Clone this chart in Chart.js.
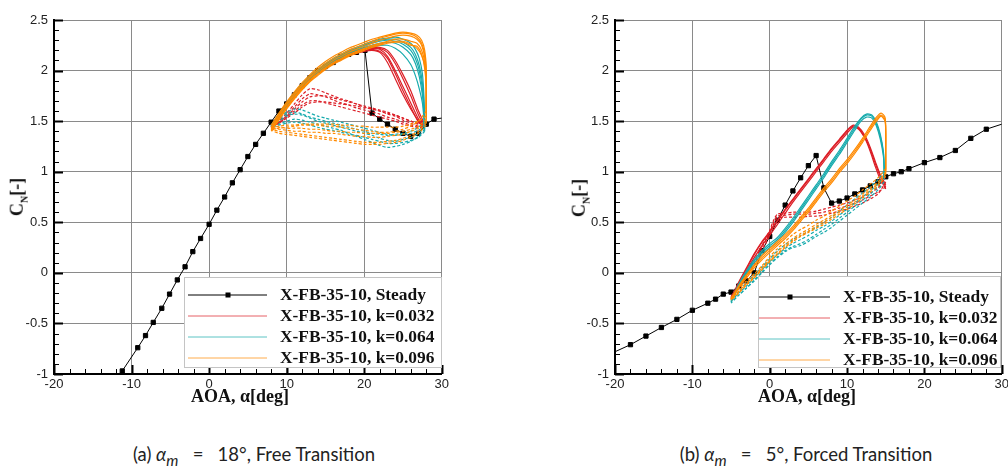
<!DOCTYPE html>
<html>
<head>
<meta charset="utf-8">
<title>Normal force loops, X-FB-35-10</title>
<script src="https://cdn.jsdelivr.net/npm/chart.js"></script>
<style>
  body { margin:0; width:1008px; height:466px; overflow:hidden; background:#fff; position:relative; }
  canvas { position:absolute; top:0; }
  #chartA { left:0; }
  #chartB { left:560px; }
  .xtitle, .ytitle { position:absolute; font-family:"Liberation Serif","Times New Roman",serif; font-weight:bold; color:#111; white-space:nowrap; }
  .xtitle { font-size:18px; top:386px; transform:translateX(-50%); }
  .ytitle { font-size:18px; transform:translate(-50%,-50%) rotate(-90deg); }
  .ytitle sub { font-size:10px; }
  .caption { position:absolute; top:443px; font-family:Lato,"Open Sans",sans-serif; font-size:18.5px; color:#222; transform:translateX(-50%); white-space:nowrap; }
</style>
</head>
<body>
<canvas id="chartA" width="452" height="392"></canvas>
<canvas id="chartB" width="452" height="392"></canvas>

<div class="ytitle" style="left:18px; top:197px;">C<sub>N</sub>[-]</div>
<div class="ytitle" style="left:580px; top:198px;">C<sub>N</sub>[-]</div>
<div class="xtitle" style="left:240px;">AOA, α[deg]</div>
<div class="xtitle" style="left:807px;">AOA, α[deg]</div>
<div class="caption" style="left:254px;">(a) <i>α<sub>m</sub></i> &nbsp; = &nbsp; 18°, Free Transition</div>
<div class="caption" style="left:806px;">(b) <i>α<sub>m</sub></i> &nbsp; = &nbsp; 5°, Forced Transition</div>

<script>
// legend
const legendLabels = ['X-FB-35-10, Steady', 'X-FB-35-10, k=0.032', 'X-FB-35-10, k=0.064', 'X-FB-35-10, k=0.096'];
const seriesColors = ['#000000', '#dc1e26', '#17abad', '#ff8a00'];

// axes
const xTicks = [-20, -10, 0, 10, 20, 30];
const yTicks = [-1, -0.5, 0, 0.5, 1, 1.5, 2, 2.5];

// (a) alpha_m = 18 deg, free transition -- steady polar
const aSteadyAlpha = [-11.2, -9.2, -8.2, -7.2, -6.1, -5.1, -4.1, -3.1, -2.1, -1.1,
  0, 1, 2, 3, 4, 5, 6, 7, 8, 9, 10, 11, 12, 13, 14, 15, 16, 17, 18, 19, 20.1,
  21, 22, 23, 24, 25, 26, 27, 28, 29, 30];
const aSteadyCn = [-0.97, -0.74, -0.62, -0.49, -0.35, -0.21, -0.07, 0.06, 0.21, 0.34,
  0.48, 0.62, 0.75, 0.89, 1.02, 1.15, 1.27, 1.38, 1.49, 1.6, 1.67, 1.76, 1.85, 1.93, 2.0, 2.04, 2.08, 2.14, 2.16, 2.18, 2.2,
  1.58, 1.52, 1.47, 1.42, 1.38, 1.35, 1.38, 1.47, 1.52, 1.53];

// (a) k=0.032, one row per cycle
const aRedUpAlpha = [8, 9, 10, 11, 12, 13, 14, 15, 16, 17, 18, 19, 20, 21, 22, 23, 24, 25, 26, 27, 27.6];
const aRedUp = [
  [1.44, 1.55, 1.66, 1.76, 1.85, 1.93, 1.99, 2.04, 2.08, 2.12, 2.16, 2.19, 2.21, 2.22, 2.21, 2.14, 2.0, 1.84, 1.68, 1.52, 1.46],
  [1.43, 1.54, 1.65, 1.75, 1.84, 1.92, 1.98, 2.03, 2.07, 2.11, 2.15, 2.17, 2.19, 2.2, 2.18, 2.08, 1.92, 1.76, 1.62, 1.5, 1.44],
  [1.45, 1.56, 1.67, 1.77, 1.86, 1.94, 2.0, 2.05, 2.09, 2.13, 2.17, 2.2, 2.22, 2.23, 2.22, 2.18, 2.07, 1.92, 1.75, 1.56, 1.47],
  [1.44, 1.55, 1.66, 1.76, 1.85, 1.93, 1.99, 2.04, 2.08, 2.12, 2.15, 2.18, 2.2, 2.21, 2.19, 2.12, 1.97, 1.8, 1.64, 1.49, 1.45],
  [1.45, 1.56, 1.67, 1.77, 1.86, 1.94, 2.0, 2.05, 2.1, 2.14, 2.17, 2.2, 2.22, 2.23, 2.23, 2.2, 2.1, 1.96, 1.8, 1.6, 1.5]
];
const aRedDnAlpha = [27.6, 27, 26, 25, 24, 23, 22, 21, 20, 19, 18, 17, 16, 15, 14, 13, 12, 11, 10, 9, 8];
const aRedDn = [
  [1.46, 1.45, 1.48, 1.51, 1.55, 1.57, 1.6, 1.62, 1.64, 1.67, 1.7, 1.72, 1.75, 1.78, 1.81, 1.82, 1.76, 1.67, 1.58, 1.5, 1.44],
  [1.44, 1.44, 1.46, 1.49, 1.52, 1.54, 1.57, 1.59, 1.61, 1.63, 1.66, 1.68, 1.71, 1.74, 1.76, 1.77, 1.72, 1.64, 1.56, 1.49, 1.44],
  [1.47, 1.47, 1.5, 1.53, 1.56, 1.59, 1.61, 1.63, 1.65, 1.67, 1.69, 1.71, 1.73, 1.75, 1.75, 1.74, 1.69, 1.62, 1.55, 1.49, 1.44],
  [1.45, 1.44, 1.45, 1.47, 1.5, 1.52, 1.54, 1.56, 1.58, 1.6, 1.62, 1.64, 1.66, 1.68, 1.7, 1.7, 1.66, 1.6, 1.54, 1.48, 1.44],
  [1.5, 1.48, 1.5, 1.53, 1.56, 1.58, 1.6, 1.62, 1.63, 1.65, 1.66, 1.67, 1.68, 1.69, 1.69, 1.68, 1.64, 1.58, 1.53, 1.48, 1.45]
];

// (a) k=0.064
const aCyanUpAlpha = [8, 9, 10, 11, 12, 13, 14, 15, 16, 17, 18, 19, 20, 21, 22, 23, 24, 25, 26, 26.6, 27.1, 27.5, 27.7, 27.8];
const aCyanUp = [
  [1.45, 1.56, 1.67, 1.77, 1.86, 1.94, 2.0, 2.05, 2.1, 2.14, 2.18, 2.21, 2.24, 2.27, 2.29, 2.3, 2.29, 2.26, 2.2, 2.12, 2.0, 1.82, 1.62, 1.44],
  [1.44, 1.55, 1.66, 1.76, 1.85, 1.93, 1.99, 2.04, 2.09, 2.13, 2.17, 2.2, 2.23, 2.25, 2.27, 2.28, 2.27, 2.23, 2.16, 2.07, 1.94, 1.76, 1.58, 1.42],
  [1.45, 1.56, 1.67, 1.77, 1.86, 1.94, 2.0, 2.06, 2.11, 2.15, 2.19, 2.22, 2.25, 2.28, 2.3, 2.31, 2.31, 2.28, 2.23, 2.16, 2.05, 1.88, 1.66, 1.46],
  [1.44, 1.55, 1.65, 1.75, 1.84, 1.92, 1.98, 2.03, 2.08, 2.12, 2.16, 2.19, 2.22, 2.24, 2.25, 2.25, 2.22, 2.16, 2.06, 1.95, 1.82, 1.68, 1.52, 1.4],
  [1.46, 1.57, 1.68, 1.78, 1.87, 1.95, 2.01, 2.07, 2.12, 2.16, 2.2, 2.23, 2.26, 2.29, 2.31, 2.32, 2.33, 2.31, 2.27, 2.21, 2.12, 1.97, 1.75, 1.5]
];
const aCyanDnAlpha = [27.8, 27, 26, 25, 24, 23, 22, 21, 20, 19, 18, 17, 16, 15, 14, 13, 12, 11, 10, 9, 8];
const aCyanDn = [
  [1.44, 1.38, 1.34, 1.32, 1.3, 1.31, 1.33, 1.36, 1.38, 1.4, 1.42, 1.44, 1.46, 1.48, 1.5, 1.53, 1.56, 1.57, 1.55, 1.5, 1.45],
  [1.42, 1.35, 1.3, 1.27, 1.25, 1.24, 1.26, 1.29, 1.32, 1.35, 1.38, 1.41, 1.43, 1.45, 1.47, 1.49, 1.51, 1.52, 1.5, 1.47, 1.44],
  [1.46, 1.41, 1.38, 1.37, 1.36, 1.37, 1.39, 1.41, 1.43, 1.45, 1.47, 1.49, 1.51, 1.53, 1.55, 1.58, 1.61, 1.62, 1.59, 1.53, 1.46],
  [1.4, 1.34, 1.31, 1.29, 1.28, 1.28, 1.3, 1.32, 1.34, 1.36, 1.37, 1.39, 1.41, 1.42, 1.44, 1.46, 1.48, 1.49, 1.48, 1.46, 1.44],
  [1.5, 1.44, 1.4, 1.38, 1.37, 1.36, 1.37, 1.38, 1.4, 1.42, 1.44, 1.46, 1.48, 1.5, 1.52, 1.54, 1.57, 1.59, 1.57, 1.52, 1.46]
];

// (a) k=0.096
const aOrangeUpAlpha = [8, 9, 10, 11, 12, 13, 14, 15, 16, 17, 18, 19, 20, 21, 22, 23, 24, 25, 26, 26.8, 27.4, 27.8, 28, 28];
const aOrangeUp = [
  [1.43, 1.55, 1.66, 1.76, 1.85, 1.93, 1.99, 2.05, 2.1, 2.14, 2.18, 2.21, 2.24, 2.27, 2.3, 2.32, 2.34, 2.35, 2.34, 2.31, 2.25, 2.13, 1.94, 1.58],
  [1.42, 1.53, 1.64, 1.74, 1.83, 1.91, 1.97, 2.03, 2.08, 2.12, 2.16, 2.19, 2.22, 2.25, 2.27, 2.29, 2.31, 2.31, 2.29, 2.27, 2.2, 2.08, 1.88, 1.52],
  [1.46, 1.58, 1.69, 1.79, 1.88, 1.96, 2.03, 2.09, 2.14, 2.18, 2.22, 2.25, 2.28, 2.31, 2.33, 2.35, 2.37, 2.38, 2.37, 2.35, 2.3, 2.2, 2.02, 1.62],
  [1.4, 1.51, 1.62, 1.72, 1.81, 1.89, 1.95, 2.01, 2.06, 2.1, 2.14, 2.17, 2.2, 2.23, 2.25, 2.27, 2.28, 2.28, 2.25, 2.24, 2.16, 2.02, 1.82, 1.48],
  [1.44, 1.56, 1.67, 1.77, 1.86, 1.94, 2.01, 2.07, 2.12, 2.16, 2.2, 2.23, 2.26, 2.29, 2.32, 2.34, 2.36, 2.37, 2.36, 2.33, 2.27, 2.16, 1.98, 1.55],
  [1.41, 1.52, 1.63, 1.73, 1.82, 1.9, 1.96, 2.02, 2.07, 2.11, 2.15, 2.18, 2.21, 2.24, 2.26, 2.28, 2.29, 2.29, 2.26, 2.22, 2.15, 2.05, 1.88, 1.6]
];
const aOrangeDnAlpha = [28, 27, 26, 25, 24, 23, 22, 21, 20, 19, 18, 17, 16, 15, 14, 13, 12, 11, 10, 9, 8];
const aOrangeDn = [
  [1.52, 1.45, 1.42, 1.4, 1.39, 1.38, 1.38, 1.38, 1.38, 1.39, 1.39, 1.4, 1.4, 1.41, 1.42, 1.42, 1.43, 1.43, 1.43, 1.44, 1.43],
  [1.48, 1.4, 1.36, 1.33, 1.31, 1.3, 1.29, 1.29, 1.29, 1.3, 1.31, 1.32, 1.33, 1.34, 1.35, 1.36, 1.37, 1.38, 1.39, 1.4, 1.42],
  [1.55, 1.5, 1.47, 1.45, 1.44, 1.44, 1.44, 1.44, 1.45, 1.45, 1.46, 1.46, 1.47, 1.47, 1.47, 1.47, 1.47, 1.46, 1.46, 1.45, 1.44],
  [1.46, 1.38, 1.34, 1.31, 1.29, 1.28, 1.27, 1.27, 1.27, 1.28, 1.29, 1.3, 1.31, 1.32, 1.33, 1.34, 1.35, 1.36, 1.37, 1.38, 1.41],
  [1.5, 1.43, 1.4, 1.37, 1.36, 1.35, 1.34, 1.34, 1.35, 1.35, 1.36, 1.37, 1.38, 1.38, 1.39, 1.39, 1.4, 1.4, 1.41, 1.42, 1.43],
  [1.6, 1.5, 1.45, 1.42, 1.4, 1.39, 1.39, 1.4, 1.41, 1.42, 1.43, 1.44, 1.45, 1.45, 1.46, 1.46, 1.46, 1.45, 1.44, 1.43, 1.41]
];

// (b) alpha_m = 5 deg, forced transition -- steady polar
const bSteadyAlpha = [-20, -18, -16, -14, -12, -10, -8, -7, -6, -5, -4, -3, -2, -1,
  0, 1, 2, 3, 4, 5, 6, 7, 8, 9, 10, 11, 12, 13, 14, 15, 16, 17, 18,
  20, 22, 24, 26, 28, 30];
const bSteadyCn = [-0.78, -0.71, -0.625, -0.54, -0.46, -0.37, -0.3, -0.26, -0.21, -0.19, -0.13, -0.08, 0.0, 0.22,
  0.36, 0.52, 0.67, 0.81, 0.94, 1.06, 1.16, 0.84, 0.69, 0.71, 0.74, 0.78, 0.82, 0.86, 0.9, 0.95, 0.98, 1.0, 1.03,
  1.09, 1.14, 1.21, 1.33, 1.42, 1.47];

// (b) k=0.032
const bRedUpAlpha = [-5, -4.5, -4, -3, -2, -1, 0, 1, 2, 3, 4, 5, 6, 7, 8, 9, 10, 10.8, 11.5, 12.3, 13, 13.7, 14.3, 14.8, 15];
const bRedUp = [
  [-0.25, -0.18, -0.1, 0.04, 0.18, 0.3, 0.4, 0.51, 0.62, 0.72, 0.82, 0.92, 1.02, 1.12, 1.22, 1.31, 1.4, 1.45, 1.43, 1.34, 1.22, 1.07, 0.95, 0.88, 0.85],
  [-0.26, -0.19, -0.12, 0.02, 0.15, 0.27, 0.37, 0.48, 0.59, 0.7, 0.8, 0.9, 1.0, 1.1, 1.2, 1.29, 1.38, 1.44, 1.42, 1.33, 1.2, 1.04, 0.92, 0.86, 0.83],
  [-0.24, -0.17, -0.09, 0.05, 0.19, 0.31, 0.41, 0.52, 0.63, 0.73, 0.83, 0.93, 1.03, 1.13, 1.23, 1.32, 1.41, 1.46, 1.44, 1.36, 1.24, 1.09, 0.97, 0.9, 0.87]
];
const bRedDnAlpha = [15, 14, 13, 12, 11, 10, 9, 8, 7, 6, 5, 4, 3, 2, 1, 0.5, 0, -1, -2, -3, -4, -5];
const bRedDn = [
  [0.85, 0.8, 0.76, 0.72, 0.69, 0.66, 0.64, 0.62, 0.6, 0.59, 0.58, 0.58, 0.58, 0.57, 0.56, 0.5, 0.4, 0.25, 0.1, -0.02, -0.14, -0.25],
  [0.9, 0.78, 0.73, 0.69, 0.66, 0.63, 0.61, 0.59, 0.57, 0.56, 0.56, 0.55, 0.55, 0.55, 0.54, 0.48, 0.37, 0.22, 0.08, -0.04, -0.15, -0.26],
  [0.95, 0.84, 0.79, 0.75, 0.72, 0.69, 0.67, 0.65, 0.63, 0.61, 0.6, 0.6, 0.6, 0.59, 0.58, 0.52, 0.42, 0.27, 0.12, 0.0, -0.12, -0.24]
];

// (b) k=0.064
const bCyanUpAlpha = [-5, -4.5, -4, -3, -2, -1, 0, 1, 2, 3, 4, 5, 6, 7, 8, 9, 10, 11, 11.8, 12.5, 13.2, 13.8, 14.3, 14.7, 14.8, 14.8];
const bCyanUp = [
  [-0.28, -0.2, -0.12, 0.0, 0.12, 0.2, 0.27, 0.33, 0.42, 0.52, 0.63, 0.74, 0.85, 0.96, 1.08, 1.19, 1.31, 1.43, 1.52, 1.56, 1.55, 1.47, 1.35, 1.18, 1.02, 0.95],
  [-0.29, -0.21, -0.13, -0.01, 0.1, 0.18, 0.25, 0.31, 0.4, 0.5, 0.61, 0.72, 0.83, 0.94, 1.06, 1.17, 1.29, 1.41, 1.5, 1.54, 1.53, 1.45, 1.32, 1.15, 1.0, 0.92],
  [-0.27, -0.19, -0.11, 0.02, 0.13, 0.22, 0.29, 0.35, 0.44, 0.54, 0.65, 0.76, 0.87, 0.98, 1.1, 1.21, 1.33, 1.45, 1.53, 1.57, 1.56, 1.49, 1.37, 1.2, 1.04, 0.97]
];
const bCyanDnAlpha = [14.8, 14, 13, 12, 11, 10, 9, 8, 7, 6, 5, 4, 3, 2, 1, 0, -1, -2, -3, -4, -5];
const bCyanDn = [
  [0.95, 0.88, 0.81, 0.75, 0.69, 0.63, 0.57, 0.51, 0.46, 0.42, 0.37, 0.33, 0.29, 0.24, 0.18, 0.11, 0.03, -0.05, -0.13, -0.2, -0.28],
  [0.9, 0.82, 0.75, 0.69, 0.63, 0.57, 0.51, 0.45, 0.4, 0.36, 0.31, 0.27, 0.25, 0.21, 0.15, 0.08, 0.0, -0.08, -0.15, -0.22, -0.29],
  [1.0, 0.92, 0.85, 0.79, 0.73, 0.67, 0.61, 0.55, 0.5, 0.45, 0.41, 0.37, 0.33, 0.28, 0.22, 0.14, 0.06, -0.02, -0.1, -0.18, -0.27],
  [0.97, 0.86, 0.78, 0.72, 0.66, 0.6, 0.54, 0.48, 0.43, 0.38, 0.33, 0.29, 0.26, 0.22, 0.16, 0.09, 0.01, -0.07, -0.15, -0.22, -0.3]
];

// (b) k=0.096
const bOrangeUpAlpha = [-5, -4, -3, -2, -1, 0, 1, 2, 3, 4, 5, 6, 7, 8, 9, 10, 11, 12, 13, 13.8, 14.4, 14.9, 15, 15, 15];
const bOrangeUp = [
  [-0.26, -0.14, -0.03, 0.07, 0.15, 0.22, 0.29, 0.36, 0.44, 0.53, 0.62, 0.72, 0.82, 0.91, 1.01, 1.1, 1.2, 1.31, 1.43, 1.52, 1.56, 1.52, 1.4, 1.2, 1.0],
  [-0.27, -0.15, -0.05, 0.05, 0.13, 0.2, 0.27, 0.34, 0.42, 0.51, 0.6, 0.7, 0.8, 0.89, 0.99, 1.08, 1.18, 1.29, 1.41, 1.5, 1.55, 1.5, 1.38, 1.18, 0.97],
  [-0.25, -0.13, -0.02, 0.08, 0.17, 0.24, 0.31, 0.38, 0.46, 0.55, 0.64, 0.74, 0.84, 0.93, 1.03, 1.12, 1.22, 1.33, 1.45, 1.54, 1.58, 1.54, 1.42, 1.22, 1.02]
];
const bOrangeDnAlpha = [15, 14, 13, 12, 11, 10, 9, 8, 7, 6, 5, 4, 3, 2, 1, 0, -1, -2, -3, -4, -5];
const bOrangeDn = [
  [1.0, 0.9, 0.84, 0.78, 0.72, 0.67, 0.62, 0.57, 0.52, 0.48, 0.43, 0.39, 0.34, 0.28, 0.21, 0.13, 0.05, -0.03, -0.1, -0.18, -0.26],
  [0.96, 0.86, 0.8, 0.74, 0.68, 0.63, 0.58, 0.53, 0.48, 0.44, 0.4, 0.36, 0.31, 0.25, 0.18, 0.11, 0.03, -0.05, -0.12, -0.2, -0.27],
  [1.03, 0.94, 0.88, 0.82, 0.76, 0.71, 0.66, 0.61, 0.56, 0.52, 0.47, 0.43, 0.38, 0.31, 0.24, 0.16, 0.07, -0.01, -0.08, -0.16, -0.25],
  [0.98, 0.88, 0.82, 0.76, 0.7, 0.65, 0.6, 0.55, 0.5, 0.46, 0.41, 0.37, 0.32, 0.26, 0.19, 0.12, 0.04, -0.04, -0.11, -0.19, -0.26]
];

Chart.defaults.font.family = '"Liberation Sans", Arial, sans-serif';
Chart.defaults.font.size = 13;
Chart.defaults.color = '#222';

function pts(alpha, cn) {
  return alpha.map((a, i) => ({ x: a, y: cn[i] }));
}

// steady curve sits underneath the loops
function steadySet(alpha, cn, markedEnds) {
  const last = alpha.length - 1;
  return {
    data: pts(alpha, cn),
    showLine: true,
    borderColor: '#000',
    borderWidth: 1,
    backgroundColor: '#000',
    pointStyle: 'rect',
    pointRadius: alpha.map((a, i) => (i === last || (i === 0 && !markedEnds)) ? 0 : 3),
    tension: 0,
    order: 9
  };
}

// upstrokes solid, downstrokes broken like the scattered samples
function loopSets(upAlpha, up, dnAlpha, dn, color, order) {
  const sets = [];
  up.forEach(cn => sets.push({
    data: pts(upAlpha, cn), showLine: true, borderColor: color, borderWidth: 1.2,
    pointRadius: 0, tension: 0.25, order
  }));
  dn.forEach(cn => sets.push({
    data: pts(dnAlpha, cn), showLine: true, borderColor: color, borderWidth: 1.2,
    borderDash: [3, 2], pointRadius: 0, tension: 0.25, order
  }));
  return sets;
}

// inward major / minor ticks on the left and bottom axes
const innerTicks = {
  id: 'innerTicks',
  afterDatasetsDraw(chart) {
    const { ctx, chartArea: ca, scales: { x, y } } = chart;
    ctx.save();
    ctx.strokeStyle = '#000';
    for (let v = -10; v <= 25; v++) {
      const major = v % 5 === 0;
      const py = Math.round(y.getPixelForValue(v / 10)) + 0.5;
      ctx.lineWidth = major ? 2 : 1;
      ctx.beginPath();
      ctx.moveTo(ca.left, py);
      ctx.lineTo(ca.left + (major ? 9 : 5), py);
      ctx.stroke();
    }
    for (let v = -20; v <= 30; v += 2) {
      const major = v % 10 === 0;
      const px = Math.round(x.getPixelForValue(v)) + 0.5;
      ctx.lineWidth = major ? 2 : 1;
      ctx.beginPath();
      ctx.moveTo(px, ca.bottom);
      ctx.lineTo(px, ca.bottom - (major ? 9 : 5));
      ctx.stroke();
    }
    ctx.restore();
  }
};

// boxed legend inside the plot
const boxLegend = {
  id: 'boxLegend',
  afterDatasetsDraw(chart, args, o) {
    const ctx = chart.ctx;
    ctx.save();
    ctx.fillStyle = '#fff';
    ctx.fillRect(o.x, o.y, o.w, o.h);
    ctx.strokeStyle = '#c4c4c4';
    ctx.lineWidth = 1;
    ctx.strokeRect(o.x + 0.5, o.y + 0.5, o.w, o.h);
    ctx.font = 'bold 17.4px "Liberation Serif", "Times New Roman", serif';
    ctx.textBaseline = 'middle';
    legendLabels.forEach((label, i) => {
      const ry = o.rows[i];
      ctx.globalAlpha = i === 0 ? 1 : 0.7;
      ctx.strokeStyle = seriesColors[i];
      ctx.beginPath();
      ctx.moveTo(o.x0, ry);
      ctx.lineTo(o.x1, ry);
      ctx.stroke();
      ctx.globalAlpha = 1;
      if (i === 0) {
        ctx.fillStyle = '#000';
        ctx.fillRect(o.mark - 2.5, ry - 2.5, 5, 5);
      }
      ctx.fillStyle = '#111';
      ctx.fillText(label, o.tx, ry + 1);
    });
    ctx.restore();
  }
};

function makeChart(id, datasets, yWidth, legendBox) {
  return new Chart(document.getElementById(id), {
    type: 'scatter',
    data: { datasets },
    options: {
      responsive: false,
      animation: false,
      devicePixelRatio: 1,
      layout: { padding: { top: 20, right: 9, left: 0, bottom: 0 } },
      plugins: { legend: { display: false }, tooltip: { enabled: false }, boxLegend: legendBox },
      scales: {
        x: {
          type: 'linear', min: -20, max: 30,
          afterFit: s => { s.height = 18; },
          afterBuildTicks: s => { s.ticks = xTicks.map(v => ({ value: v })); },
          ticks: { padding: 3, callback: v => String(v) },
          grid: { color: '#8a8a8a', lineWidth: 1, drawTicks: false },
          border: { display: true, color: '#000', width: 2 }
        },
        y: {
          type: 'linear', min: -1, max: 2.5,
          afterFit: s => { s.width = yWidth; },
          afterBuildTicks: s => { s.ticks = yTicks.map(v => ({ value: v })); },
          ticks: { padding: 6, callback: v => String(v) },
          grid: { color: '#8a8a8a', lineWidth: 1, drawTicks: false },
          border: { display: true, color: '#000', width: 2 }
        }
      }
    },
    plugins: [innerTicks, boxLegend]
  });
}

makeChart('chartA', [
  steadySet(aSteadyAlpha, aSteadyCn, true),
  ...loopSets(aOrangeUpAlpha, aOrangeUp, aOrangeDnAlpha, aOrangeDn, seriesColors[3], 1),
  ...loopSets(aCyanUpAlpha, aCyanUp, aCyanDnAlpha, aCyanDn, seriesColors[2], 2),
  ...loopSets(aRedUpAlpha, aRedUp, aRedDnAlpha, aRedDn, seriesColors[1], 3)
], 54, { x: 184, y: 277, w: 257, h: 90, x0: 188, x1: 267, mark: 228, tx: 280, rows: [295, 316, 337, 358] });

makeChart('chartB', [
  steadySet(bSteadyAlpha, bSteadyCn, false),
  ...loopSets(bOrangeUpAlpha, bOrangeUp, bOrangeDnAlpha, bOrangeDn, seriesColors[3], 1),
  ...loopSets(bCyanUpAlpha, bCyanUp, bCyanDnAlpha, bCyanDn, seriesColors[2], 2),
  ...loopSets(bRedUpAlpha, bRedUp, bRedDnAlpha, bRedDn, seriesColors[1], 3)
], 55, { x: 198, y: 276, w: 242, h: 91, x0: 199, x1: 270, mark: 230, tx: 283, rows: [297, 318, 339, 360] });
</script>
</body>
</html>
